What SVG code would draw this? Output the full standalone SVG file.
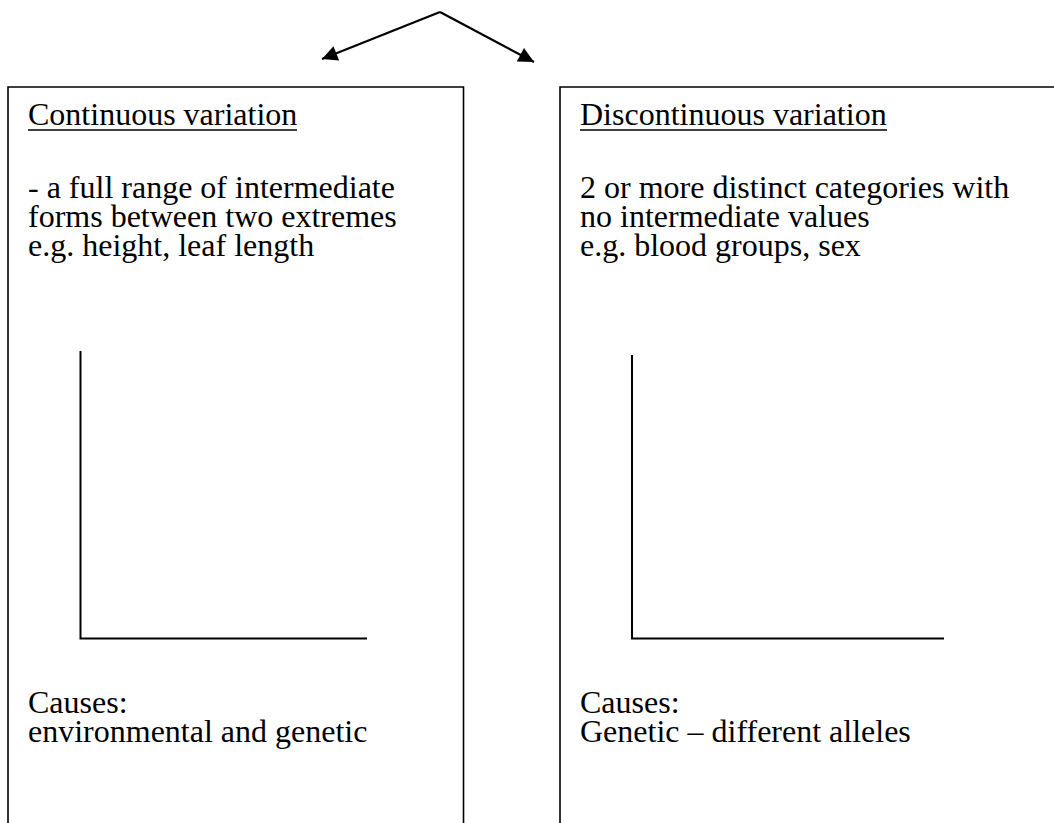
<svg xmlns="http://www.w3.org/2000/svg" width="1054" height="823" viewBox="0 0 1054 823">
  <style>
    text { font-family: "Liberation Serif", "Times New Roman", serif; font-size: 32px; fill: #000; }
    .box { fill: none; stroke: #000; stroke-width: 1.6; }
    .axis { stroke: #000; stroke-width: 2; fill: none; }
    .conn { stroke: #000; stroke-width: 2.2; fill: none; }
    .ul { stroke: #000; stroke-width: 1.6; }
  </style>
  <defs>
    <marker id="arrow" viewBox="0 0 10 10" refX="10" refY="5" markerWidth="8.5" markerHeight="7" markerUnits="strokeWidth" orient="auto">
      <path d="M0,0 L10,5 L0,10 z" fill="#000"/>
    </marker>
  </defs>
  <rect width="1054" height="823" fill="#fff"/>

  <g id="connectors">
    <line class="conn" x1="440" y1="12" x2="322" y2="59" marker-end="url(#arrow)"/>
    <line class="conn" x1="440" y1="12" x2="534" y2="62" marker-end="url(#arrow)"/>
  </g>

  <g id="continuous">
    <path class="box" d="M8,840 V87 H463.5 V840"/>
    <text x="28" y="125">Continuous variation</text>
    <line class="ul" x1="28" y1="130" x2="297" y2="130"/>
    <text x="28" y="198">- a full range of intermediate</text>
    <text x="28" y="227">forms between two extremes</text>
    <text x="28" y="256">e.g. height, leaf length</text>
    <path class="axis" d="M80.5,351 V638.5 H367"/>
    <text x="28" y="713">Causes:</text>
    <text x="28" y="742">environmental and genetic</text>
  </g>

  <g id="discontinuous">
    <path class="box" d="M560,840 V87 H1060"/>
    <text x="580" y="125">Discontinuous variation</text>
    <line class="ul" x1="580" y1="130" x2="887" y2="130"/>
    <text x="580" y="198">2 or more distinct categories with</text>
    <text x="580" y="227">no intermediate values</text>
    <text x="580" y="256">e.g. blood groups, sex</text>
    <path class="axis" d="M632,355 V638.5 H944"/>
    <text x="580" y="713">Causes:</text>
    <text x="580" y="742">Genetic – different alleles</text>
  </g>
</svg>
